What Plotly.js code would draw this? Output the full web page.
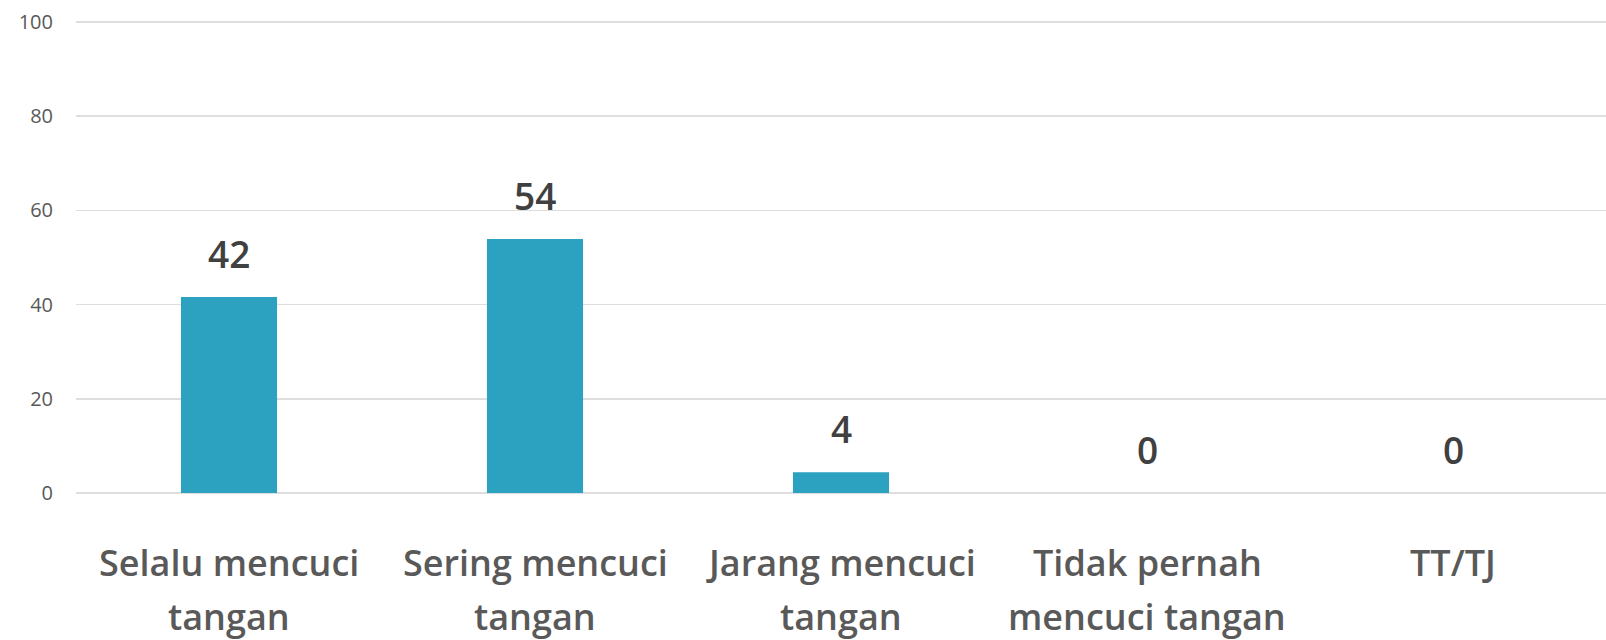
<!DOCTYPE html>
<html>
<head>
<meta charset="utf-8">
<script src="https://cdn.plot.ly/plotly-3.0.1.min.js"></script>
<style>html,body{margin:0;padding:0;background:#fff;}#chart{width:1606px;height:640px;}</style>
</head>
<body>
<div id="chart"></div>
<script>
const categories = ["Selalu mencuci tangan", "Sering mencuci tangan", "Jarang mencuci tangan", "Tidak pernah mencuci tangan", "TT/TJ"];
const labelLine1 = ["Selalu mencuci", "Sering mencuci", "Jarang mencuci", "Tidak pernah", "TT/TJ"];
const labelLine2 = ["tangan", "tangan", "tangan", "mencuci tangan", ""];
const values = [41.6, 53.9, 4.4, 0, 0];
const labels = ["42", "54", "4", "0", "0"];
const yTicks = [0, 20, 40, 60, 80, 100];

const trace = {
  type: 'bar',
  x: categories,
  y: values,
  marker: {color: '#2ca2c0'},
  hoverinfo: 'skip'
};

const catFont = {family: 'Open Sans', size: 36, color: '#595959', weight: 600};
const annotations = [];
categories.forEach((c, i) => {
  annotations.push({
    x: c, y: values[i], xref: 'x', yref: 'y',
    text: labels[i], showarrow: false, yanchor: 'bottom', yshift: 16,
    font: {family: 'Open Sans', size: 37, color: '#404040', weight: 600}
  });
  annotations.push({
    x: c, y: 0, xref: 'x', yref: 'paper', text: labelLine1[i], showarrow: false,
    yanchor: 'middle', yshift: -69, font: catFont
  });
  if (labelLine2[i]) annotations.push({
    x: c, y: 0, xref: 'x', yref: 'paper', text: labelLine2[i], showarrow: false,
    yanchor: 'middle', yshift: -123, font: catFont
  });
});

const layout = {
  width: 1606, height: 640,
  margin: {l: 76, r: 0, t: 20, b: 147},
  paper_bgcolor: '#ffffff', plot_bgcolor: '#ffffff',
  showlegend: false,
  bargap: 0.686,
  xaxis: {
    type: 'category',
    showgrid: false, zeroline: false, showline: false,
    showticklabels: false, ticks: ''
  },
  yaxis: {
    range: [0, 100.4], tickvals: yTicks, ticktext: yTicks.map(String),
    showgrid: true, gridcolor: '#dedede', gridwidth: 1.5,
    zeroline: true, zerolinecolor: '#dedede', zerolinewidth: 1.5,
    showline: false,
    tickfont: {family: 'Open Sans', size: 20, color: '#595959'},
    ticks: '', ticklabelstandoff: 22
  },
  annotations: annotations
};

Plotly.newPlot('chart', [trace], layout, {displayModeBar: false, staticPlot: true});
</script>
</body>
</html>
